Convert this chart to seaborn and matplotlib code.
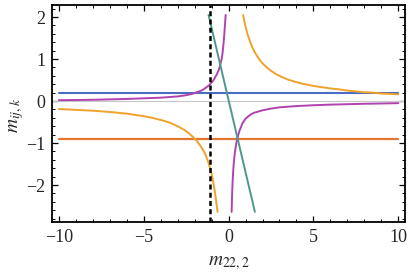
import numpy as np
import pandas as pd
import matplotlib
matplotlib.use("Agg")
import matplotlib.pyplot as plt
from matplotlib.ticker import MultipleLocator
import seaborn as sns

# ---- data ----
x_span = [-10, 10]
blue_level = 0.18
red_level = -0.9
dashed_x = -1.1

teal_x = [-1.18, 1.55]
teal_y = [2.05, -2.64]

purple_left_x = [-10, -9, -8, -7, -6, -5, -4, -3.5, -3, -2.5, -2.2, -2, -1.8, -1.6, -1.45,
                 -1.3, -1.15, -1.05, -0.92, -0.8, -0.7, -0.6, -0.53, -0.47, -0.41, -0.36,
                 -0.32, -0.28, -0.25, -0.22, -0.195, -0.17]
purple_left_y = [0.02, 0.025, 0.03, 0.04, 0.05, 0.065, 0.08, 0.095, 0.11, 0.14, 0.165, 0.19,
                 0.22, 0.25, 0.285, 0.33, 0.375, 0.42, 0.48, 0.56, 0.63, 0.72, 0.8, 0.9, 1.0,
                 1.13, 1.27, 1.45, 1.6, 1.78, 1.92, 2.05]
purple_right_x = [0.18, 0.195, 0.21, 0.23, 0.25, 0.28, 0.31, 0.34, 0.37, 0.41, 0.45, 0.51,
                  0.58, 0.65, 0.73, 0.82, 0.92, 1.0, 1.15, 1.3, 1.5, 1.75, 2.0, 2.5, 3.0,
                  3.5, 4.0, 5.0, 6.0, 7.0, 8.0, 9.0, 10]
purple_right_y = [-2.64, -2.4, -2.2, -2.0, -1.82, -1.62, -1.46, -1.34, -1.24, -1.12, -1.02,
                  -0.9, -0.79, -0.7, -0.62, -0.53, -0.47, -0.42, -0.37, -0.32, -0.28, -0.25,
                  -0.22, -0.18, -0.15, -0.135, -0.12, -0.1, -0.085, -0.075, -0.065, -0.058, -0.05]

orange_left_x = [-10, -9, -8, -7, -6, -5, -4.5, -4, -3.5, -3, -2.6, -2.3, -2.06, -1.85,
                 -1.65, -1.5, -1.35, -1.2, -1.06, -0.95, -0.86, -0.79, -0.72, -0.65]
orange_left_y = [-0.19, -0.21, -0.23, -0.26, -0.3, -0.36, -0.4, -0.45, -0.51, -0.6, -0.69,
                 -0.78, -0.87, -0.96, -1.07, -1.17, -1.29, -1.45, -1.64, -1.83, -2.03,
                 -2.21, -2.42, -2.64]
orange_right_x = [0.86, 0.9, 0.95, 1.0, 1.1, 1.2, 1.3, 1.4, 1.55, 1.7, 1.85, 2.0, 2.25, 2.5,
                  2.8, 3.1, 3.5, 4.0, 4.5, 5.0, 5.5, 6.0, 6.5, 7.0, 7.5, 8.0, 8.5, 9.0, 9.5, 10]
orange_right_y = [2.05, 1.96, 1.86, 1.77, 1.62, 1.49, 1.38, 1.28, 1.16, 1.06, 0.97, 0.9, 0.8,
                  0.72, 0.64, 0.58, 0.51, 0.45, 0.4, 0.36, 0.33, 0.3, 0.28, 0.25, 0.23, 0.21,
                  0.2, 0.18, 0.17, 0.16]

x_ticks = [-10, -5, 0, 5, 10]
y_ticks = [-2, -1, 0, 1, 2]

# ---- style ----
sns.set_style("ticks")
plt.rcParams["font.family"] = ["Liberation Serif", "DejaVu Serif"]
plt.rcParams["mathtext.fontset"] = "stix"

fig = plt.figure(figsize=(4.10, 2.73), dpi=100)
ax = fig.add_axes([0.127, 0.187, 0.861, 0.795])

C_BLUE = "#4a6cc4"
C_RED = "#e2762f"
C_ORANGE = "#f0a22a"
C_PURPLE = "#b043b0"
C_TEAL = "#4a9a8c"

ax.axhline(0, color="#c8c8c8", lw=0.8, zorder=1)

def line(x, y, c, lw=1.4):
    df = pd.DataFrame({"x": x, "y": y})
    sns.lineplot(data=df, x="x", y="y", ax=ax, color=c, lw=lw,
                 sort=False, estimator=None)

line(x_span, [blue_level] * 2, C_BLUE, 1.5)
line(x_span, [red_level] * 2, C_RED, 1.6)
line(orange_left_x, orange_left_y, C_ORANGE)
line(orange_right_x, orange_right_y, C_ORANGE)
line(purple_left_x, purple_left_y, C_PURPLE)
line(purple_right_x, purple_right_y, C_PURPLE)
line(teal_x, teal_y, C_TEAL)

ax.axvline(dashed_x, color="black", lw=1.8, dashes=(2.0, 1.3), zorder=5)

ax.set_xlim(-10.4, 10.4)
ax.set_ylim(-2.88, 2.29)
ax.set_xticks(x_ticks)
ax.set_yticks(y_ticks)
ax.set_xticklabels([str(v).replace("-", "\u2212") for v in x_ticks])
ax.set_yticklabels([str(v).replace("-", "\u2212") for v in y_ticks])
ax.xaxis.set_minor_locator(MultipleLocator(1))
ax.yaxis.set_minor_locator(MultipleLocator(0.2))
ax.tick_params(which="both", direction="in", top=True, right=True,
               color="black", labelsize=13, pad=5)
ax.tick_params(which="major", length=4, width=0.9)
ax.tick_params(which="minor", length=2, width=0.7)
for s in ax.spines.values():
    s.set_linewidth(1.3)
    s.set_color("black")

ax.set_xlabel(r"$m_{22,2}$", fontsize=14, labelpad=6)
ax.set_ylabel(r"$m_{ij,k}$", fontsize=14)
ax.yaxis.set_label_coords(-0.075, 0.49)

fig.savefig("out.png", dpi=100)
